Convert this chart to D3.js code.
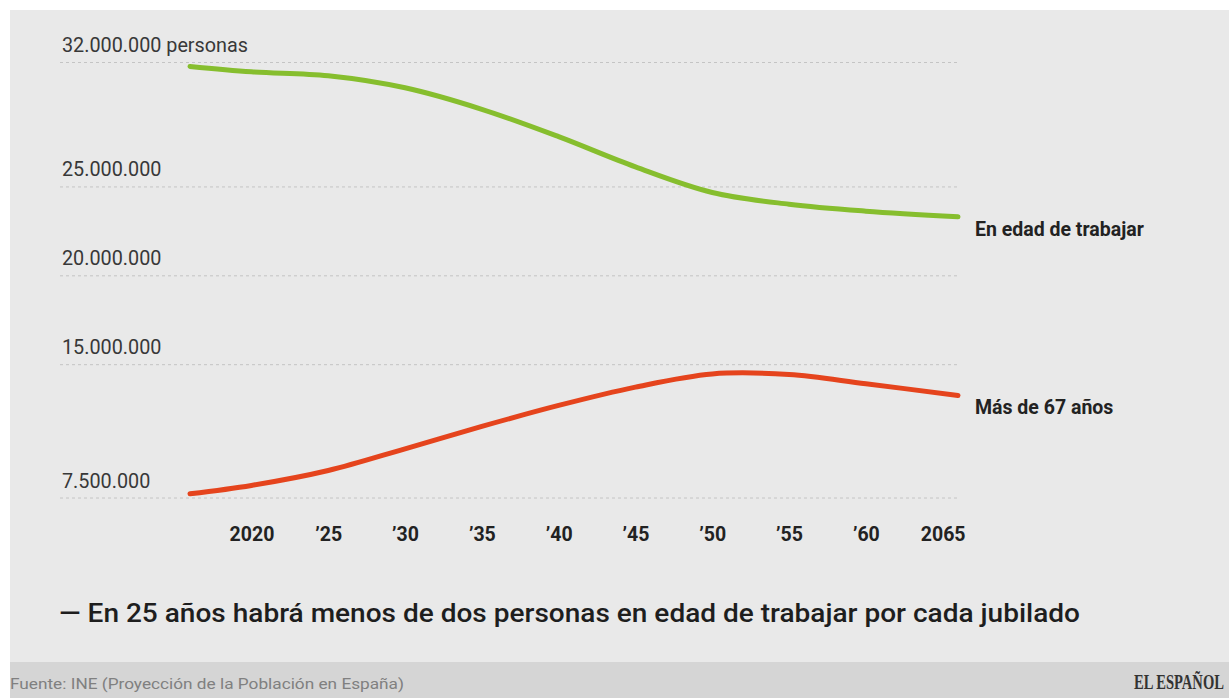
<!DOCTYPE html>
<html>
<head>
<meta charset="utf-8">
<script src="https://cdn.jsdelivr.net/npm/d3@7"></script>
<style>
  body { margin: 0; background: #fff; }
  text { font-family: Roboto, 'Noto Sans', sans-serif; }
</style>
</head>
<body>
<div id="chart"></div>
<script>
// years and values (millions of persons)
const years = [2016, 2020, 2025, 2030, 2035, 2040, 2045, 2050, 2055, 2060, 2066]
const working = [31.75, 31.45, 31.23, 30.55, 29.34, 27.8, 26.1, 24.66, 24.0, 23.61, 23.29]
const over67 = [7.71, 8.18, 9.02, 10.24, 11.5, 12.68, 13.71, 14.45, 14.42, 13.9, 13.24]

const xTicks = [2020, 2025, 2030, 2035, 2040, 2045, 2050, 2055, 2060, 2065]
const xTickLabels = ['2020', '\u201925', '\u201930', '\u201935', '\u201940', '\u201945', '\u201950', '\u201955', '\u201960', '2065']
const yTicks = [7500000, 15000000, 20000000, 25000000, 32000000]

const seriesNames = ['En edad de trabajar', 'Más de 67 años']
const seriesColors = ['#86be2e', '#e5441d']

const width = 1229
const height = 698

const svg = d3
  .select('#chart')
  .append('svg')
  .attr('width', width)
  .attr('height', height)

// background panel + footer band
svg.append('rect').attr('x', 10).attr('y', 10).attr('width', width - 10).attr('height', height - 10).attr('fill', '#e9e9e9')
svg.append('rect').attr('x', 10).attr('y', 662).attr('width', width - 10).attr('height', height - 662).attr('fill', '#d5d5d5')

var x = d3.scaleLinear().domain([2016, 2066]).range([190, 958])
var y = d3.scaleLinear().domain([7500000, 32000000]).range([497.5, 62])

const es = d3.formatLocale({ decimal: ',', thousands: '.', grouping: [3], currency: ['', ' €'] })
const fmt = es.format(',d')

// gridlines + y labels
const yAxis = svg
  .append('g')
  .attr('transform', 'translate(60,0)')
  .call(
    d3
      .axisRight(y)
      .tickValues(yTicks)
      .tickSize(898)
      .tickFormat((d) => (d === 32000000 ? fmt(d) + ' personas' : fmt(d)))
  )
yAxis.select('.domain').remove()
yAxis
  .selectAll('.tick line')
  .attr('stroke', '#c4c4c4')
  .attr('stroke-width', 1)
  .attr('stroke-dasharray', '3,3')
yAxis
  .selectAll('.tick text')
  .attr('x', 2)
  .attr('dy', -10.5)
  .attr('text-anchor', 'start')
  .attr('fill', '#383838')
  .style('font-size', '19.8px')
  .style('font-family', 'Roboto, sans-serif')

// x labels
const xAxis = svg
  .append('g')
  .attr('transform', 'translate(0,527)')
  .call(
    d3
      .axisBottom(x)
      .tickValues(xTicks)
      .tickSize(0)
      .tickFormat((d, i) => xTickLabels[i])
  )
xAxis.select('.domain').remove()
xAxis
  .selectAll('.tick text')
  .attr('y', 0)
  .attr('dy', '0.74em')
  .attr('fill', '#222')
  .style('font-size', '19.5px')
  .style('font-weight', 'bold')
  .style('font-family', 'Roboto, sans-serif')

// lines
const series = [working, over67]
const line = d3
  .line()
  .x((d, i) => x(years[i]))
  .y((d) => y(d * 1e6))
  .curve(d3.curveCatmullRom.alpha(0.5))

series.forEach((s, k) => {
  svg
    .append('path')
    .attr('d', line(s))
    .attr('fill', 'none')
    .attr('stroke', seriesColors[k])
    .attr('stroke-width', 5)
    .attr('stroke-linecap', 'round')

  svg
    .append('text')
    .attr('x', 975)
    .attr('y', y(s[s.length - 1] * 1e6) + 19)
    .attr('fill', '#222')
    .style('font-size', '19.5px')
    .style('font-weight', 'bold')
    .text(seriesNames[k])
})

// headline
svg
  .append('text')
  .attr('x', 59)
  .attr('y', 622)
  .attr('fill', '#1e1e1e')
  .attr('textLength', 1021)
  .attr('lengthAdjust', 'spacingAndGlyphs')
  .style('font-size', '25px')
  .style('font-weight', 500)
  .text('\u2014 En 25 años habrá menos de dos personas en edad de trabajar por cada jubilado')

// source
svg
  .append('text')
  .attr('x', 10)
  .attr('y', 689)
  .attr('fill', '#808080')
  .attr('textLength', 394)
  .attr('lengthAdjust', 'spacingAndGlyphs')
  .style('font-size', '15px')
  .text('Fuente: INE (Proyección de la Población en España)')

// logo, squeezed horizontally like the masthead
const logo = svg.append('g')
const logoText = logo
  .append('text')
  .attr('fill', '#333')
  .style('font-family', "'Liberation Serif', 'DejaVu Serif', serif")
  .style('font-size', '22px')
  .style('font-weight', 'bold')
  .text('EL ESPAÑOL')
const logoW = logoText.node().getComputedTextLength()
logo.attr('transform', `translate(1134,689) scale(${90 / logoW},1)`)
</script>
</body>
</html>
